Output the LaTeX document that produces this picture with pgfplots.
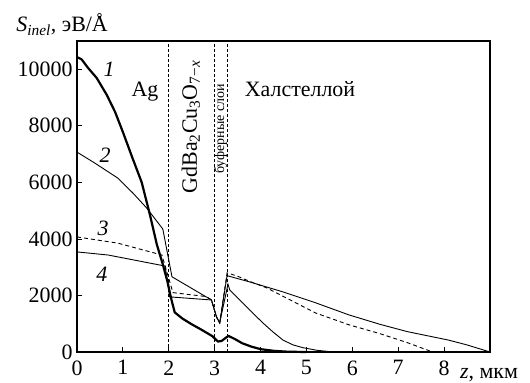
\documentclass[border=0pt]{standalone}
\usepackage{fontspec}
\setmainfont{Liberation Serif}
\usepackage{pgfplots}
\pgfplotsset{compat=1.18}
\newcommand{\bigf}{\fontsize{22}{26}\selectfont}
\begin{document}
\begin{tikzpicture}
\begin{axis}[
  at={(0,0)}, anchor=south west,
  scale only axis, width=413bp, height=311bp,
  xmin=0, xmax=9, ymin=0, ymax=11000,
  xtick={0,1,...,8}, ytick={0,2000,...,10000},
  xtick pos=bottom, ytick pos=left, tick align=inside,
  major tick length=5bp,
  axis line style={line width=1.3bp},
  tick style={line width=0.8bp, black},
  scaled ticks=false,
  /pgf/number format/set thousands separator={},
  /pgf/number format/assume math mode=true,
  tick label style={font=\bigf},
  xticklabel style={yshift=-5bp},
  yticklabel style={xshift=-1bp},
  clip=false,
]
% vertical layer boundaries
\addplot[black, line width=0.6bp, dash pattern=on 3bp off 2bp] coordinates {(2,0)(2,11000)};
\addplot[black, line width=0.6bp, dash pattern=on 3bp off 2bp] coordinates {(3,0)(3,11000)};
\addplot[black, line width=0.6bp, dash pattern=on 3bp off 2bp] coordinates {(3.27,0)(3.27,11000)};
% curve 1
\addplot[black, line width=2.2bp, line join=round] coordinates {
(0,10430)(0.1,10350)(0.24,10050)(0.43,9690)(0.65,9090)(0.83,8490)(1.0,7780)
(1.2,6900)(1.41,6000)(1.59,4850)(1.74,3800)(1.87,3100)(1.97,2500)(2.05,1900)(2.13,1400)
(2.3,1180)(2.5,980)(2.7,800)(2.95,560)(3.07,370)(3.15,390)(3.3,570)(3.45,450)
(3.6,310)(3.8,190)(4.0,100)(4.3,40)(4.6,10)(5,0)};
% curve 2
\addplot[black, line width=0.9bp] coordinates {
(0,7070)(0.39,6680)(0.89,6150)(1.22,5620)(1.52,5090)(1.87,4350)(2.07,2660)
(2.93,1840)(3.04,1240)(3.11,1030)(3.29,2400)(3.33,2190)(3.76,1490)(4.05,1030)
(4.27,710)(4.49,420)(4.71,250)(4.93,150)(5.23,60)(5.6,0)};
% curve 3 (dashed)
\addplot[black, line width=0.9bp, dash pattern=on 4bp off 3bp] coordinates {
(0,4070)(0.89,3850)(1.85,3430)(2.0,2600)(2.09,2100)(2.82,1960)(2.93,1840)
(3.04,1240)(3.11,1030)(3.27,2800)(3.5,2680)(3.76,2500)(4.13,2270)(5.2,1380)
(5.93,960)(6.6,650)(7.2,330)(7.75,0)};
% curve 4
\addplot[black, line width=0.9bp] coordinates {
(0,3540)(0.68,3430)(1.92,3040)(2.02,1950)(2.93,1840)(3.04,1240)(3.11,1030)
(3.27,2700)(3.76,2480)(4.48,2130)(5.2,1740)(5.93,1310)(6.6,980)(7.2,720)
(8.1,420)(8.5,250)(9,0)};
% curve labels
\node[font=\bigf] at (axis cs:0.7,10000) {\textit{1}};
\node[font=\bigf] at (axis cs:0.61,6970) {\textit{2}};
\node[font=\bigf] at (axis cs:0.57,4390) {\textit{3}};
\node[font=\bigf] at (axis cs:0.54,2760) {\textit{4}};
% region labels
\node[font=\bigf, anchor=base] at (axis cs:1.48,9020) {Ag};
\node[font=\bigf, anchor=base] at (axis cs:4.86,9020) {Халстеллой};
\node[font=\bigf, rotate=90] at (axis cs:2.48,7960) {GdBa\textsubscript{2}Cu\textsubscript{3}O\textsubscript{7−\textit{x}}};
\node[rotate=90, font=\fontsize{14}{16}\selectfont, inner sep=1bp] at (axis cs:3.13,7890) {буферные слои};
% axis labels
\node[font=\bigf, anchor=base] at (rel axis cs:-0.036,1.029) {\textit{S}\textsubscript{\textit{inel}}, эВ/Å};
\node[font=\bigf, anchor=base west, inner sep=0pt] at (rel axis cs:0.927,-0.0836) {\textit{z}, мкм};
\end{axis}
\pgfresetboundingbox
\path[use as bounding box] (-77bp,-31bp) rectangle (453bp,352bp);
\end{tikzpicture}
\end{document}
